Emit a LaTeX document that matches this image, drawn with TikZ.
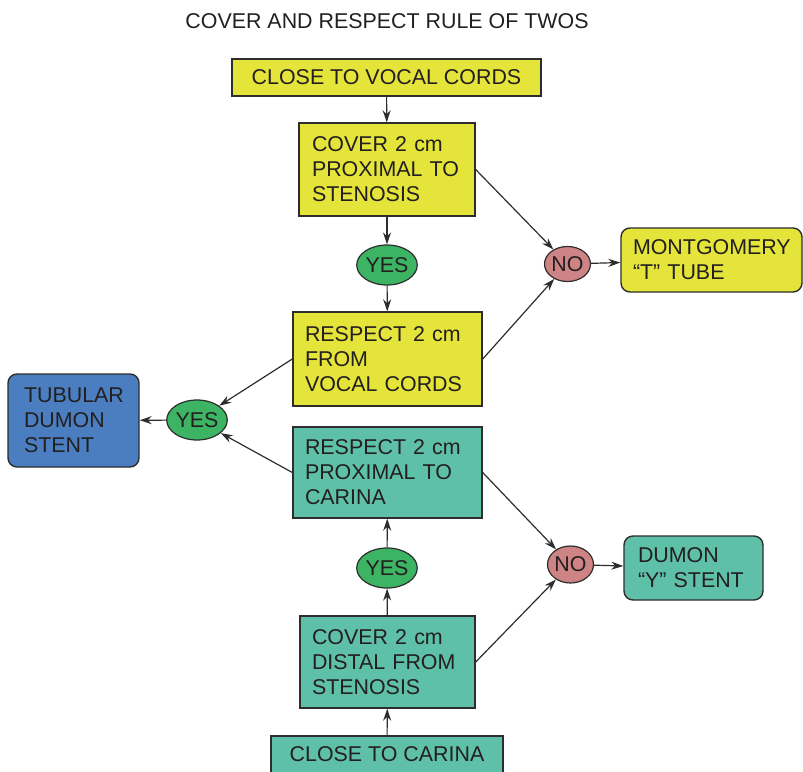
\documentclass[tikz,border=0pt]{standalone}
\usepackage{fontspec}
\setmainfont{Liberation Sans}
\usetikzlibrary{shapes.geometric,arrows.meta}
\definecolor{ylw}{RGB}{228,228,58}
\definecolor{tea}{RGB}{94,192,168}
\definecolor{blu}{RGB}{74,126,192}
\definecolor{grn}{RGB}{60,180,100}
\definecolor{pnk}{RGB}{206,132,132}
\definecolor{edge}{RGB}{45,45,45}
\definecolor{txt}{RGB}{35,31,32}
\begin{document}
\begin{tikzpicture}[x=1pt,y=-1pt,
  font=\fontsize{21.4}{25}\selectfont,
  box/.style={draw=edge, line width=1.4pt, text=txt, inner ysep=0pt, align=left, anchor=center},
  rbox/.style={box, rounded corners=9pt},
  oval/.style={ellipse, draw=edge, line width=1.2pt, text=txt, inner sep=0pt, minimum width=58pt, minimum height=40pt},
  arr/.style={draw=edge, line width=1.2pt, -{Stealth[length=12pt,width=8pt]}}
]
\useasboundingbox (0,0) rectangle (803,771);

\node[text=txt] (title) at (387,21) {COVER AND RESPECT RULE OF TWOS};

\node[box, fill=ylw, minimum width=309pt, minimum height=37pt, align=center] (b1) at (386.5,77.5) {CLOSE TO VOCAL CORDS};
\node[box, fill=ylw, inner xsep=13pt, text width=150pt, minimum height=93pt] (b2) at (387,169.5) {COVER 2 cm\\PROXIMAL TO\\STENOSIS};
\node[oval, fill=grn] (y1) at (387,265) {YES};
\node[oval, fill=pnk, minimum width=46pt, minimum height=35pt] (n1) at (567.5,264) {NO};
\node[rbox, fill=ylw, inner xsep=12pt, text width=157pt, minimum height=64pt] (mt) at (711.5,260) {MONTGOMERY\\“T” TUBE};
\node[box, fill=ylw, inner xsep=12pt, text width=165pt, minimum height=94pt] (b3) at (387.5,359) {RESPECT 2 cm\\FROM\\VOCAL CORDS};
\node[oval, fill=grn] (y2) at (197,420) {YES};
\node[rbox, fill=blu, inner xsep=16pt, text width=99pt, minimum height=93pt] (tb) at (73.5,420.5) {TUBULAR\\DUMON\\STENT};
\node[box, fill=tea, inner xsep=12pt, text width=165pt, minimum height=91pt] (b4) at (387.5,472.5) {RESPECT 2 cm\\PROXIMAL TO\\CARINA};
\node[oval, fill=grn] (y3) at (387,568) {YES};
\node[oval, fill=pnk, minimum width=46pt, minimum height=37pt] (n2) at (570.5,564.5) {NO};
\node[rbox, fill=tea, inner xsep=14pt, text width=111pt, minimum height=64pt] (dy) at (693.5,568) {DUMON\\“Y” STENT};
\node[box, fill=tea, inner xsep=12pt, text width=151pt, minimum height=92pt] (b5) at (387.5,662) {COVER 2 cm\\DISTAL FROM\\STENOSIS};
\node[box, fill=tea, minimum width=232pt, minimum height=37pt, align=center] (b6) at (387,754.5) {CLOSE TO CARINA};

\draw[arr] (b1) -- (b2);
\draw[arr] (b2) -- (y1);
\draw[arr] (y1) -- (b3);
\draw[arr] (b2.east) -- (n1);
\draw[arr] (b3.east) -- (n1);
\draw[arr] (n1) -- (mt);
\draw[arr] (b3.west) -- (y2);
\draw[arr] (b4.west) -- (y2);
\draw[arr] (y2) -- (tb);
\draw[arr] (b4.east) -- (n2);
\draw[arr] (b5.east) -- (n2);
\draw[arr] (n2) -- (dy);
\draw[arr] (b5) -- (y3);
\draw[arr] (y3) -- (b4);
\draw[arr] (b6) -- (b5);
\end{tikzpicture}
\end{document}
